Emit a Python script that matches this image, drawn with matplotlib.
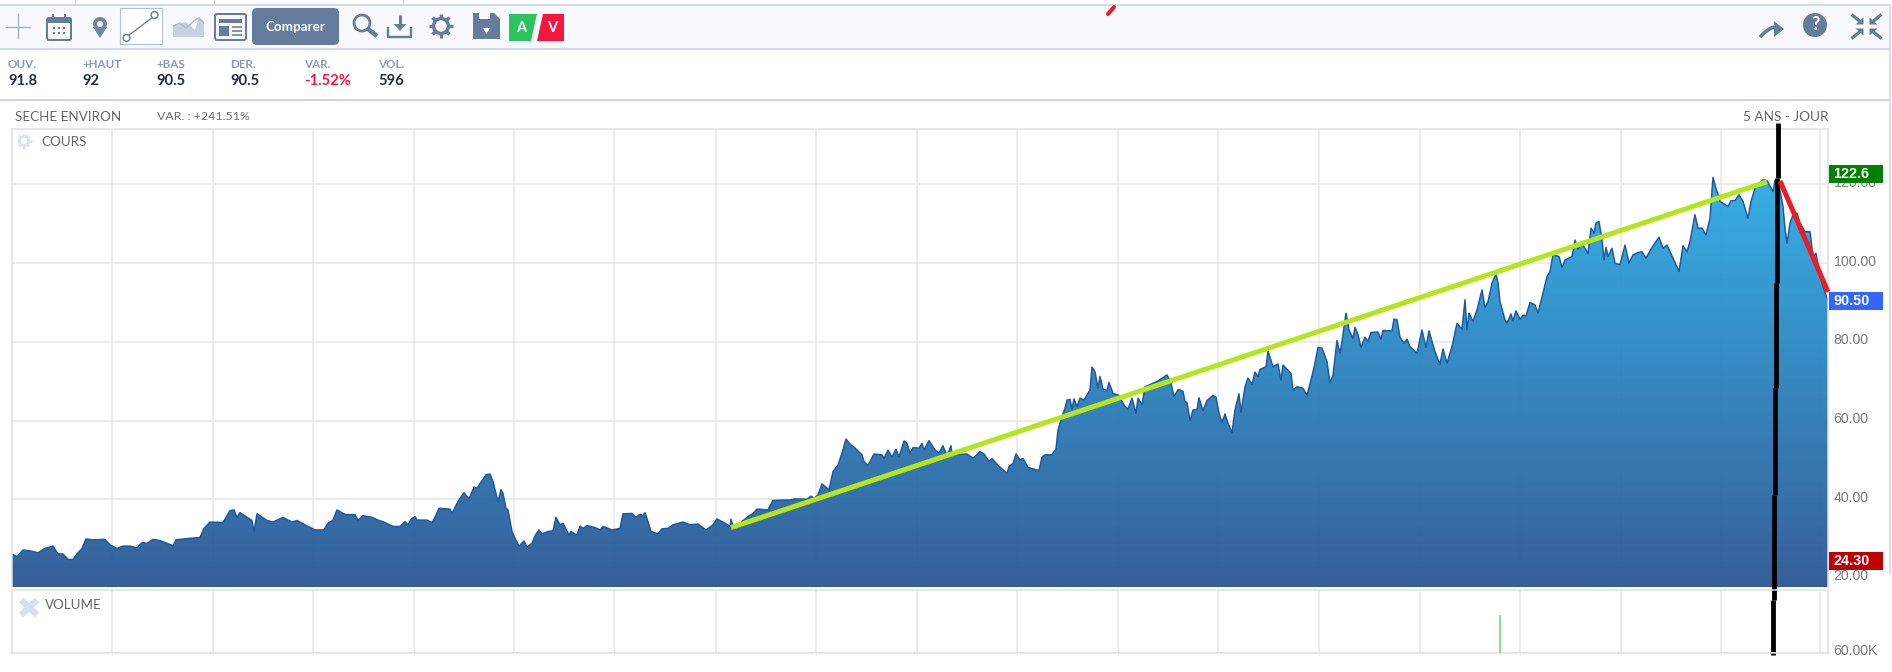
"""SECHE ENVIRON, 5 ans - jour: capture of the quote page with hand-drawn trend lines."""
import matplotlib
matplotlib.use("Agg")
import matplotlib.pyplot as plt
import numpy as np
from matplotlib.colors import LinearSegmentedColormap
from matplotlib.patches import Circle, FancyBboxPatch, Polygon, Rectangle
from matplotlib.transforms import ScaledTranslation

W, H = 1892, 672
plt.rcParams["font.family"] = ["Lato", "DejaVu Sans"]

# price curve (session index / close)
sessions = [
    0, 5, 11, 18, 26, 33, 41, 46, 51, 56, 61, 65, 70, 74, 80, 93, 98, 105, 111, 118,
    125, 130, 135, 141, 148, 161, 164, 175, 188, 192, 198, 211, 218, 222, 225, 228, 240, 242, 245, 255,
    261, 271, 280, 285, 293, 303, 312, 316, 321, 325, 333, 343, 346, 351, 360, 366, 371, 381,
    388, 393, 396, 399, 403, 405, 415, 420, 423, 427, 438, 440, 446, 452, 457, 462, 465, 474, 478, 481,
    486, 489, 491, 494, 496, 500, 503, 507, 512, 515, 520, 523, 527, 530, 536, 541, 544, 548, 551, 557,
    559, 565, 568, 571, 575, 583, 588, 591, 600, 608, 611, 620, 624, 628, 631, 633, 636, 639, 646, 650,
    656, 661, 671, 678, 686, 694, 701, 705, 713, 718, 719, 721, 728, 736, 741, 745, 756, 761, 770,
    778, 783, 795, 799, 802, 806, 810, 817, 821, 826, 830, 834, 838, 843, 850, 852, 856, 862, 870, 872,
    876, 880, 884, 887, 892, 895, 898, 901, 907, 910, 912, 917, 923, 927, 931, 935, 939, 940, 955, 961,
    968, 972, 977, 980, 986, 995, 997, 1001, 1004, 1008, 1011, 1016, 1027, 1030, 1033, 1040, 1044, 1046,
    1050, 1053, 1055, 1058, 1060, 1062, 1065, 1068, 1072, 1078, 1080, 1083, 1086, 1088, 1091, 1095, 1097,
    1101, 1106, 1113, 1116, 1120, 1124, 1126, 1130, 1133, 1145, 1155, 1159, 1162, 1166,
    1168, 1171, 1173, 1175, 1178, 1181, 1185, 1187, 1191, 1195, 1201, 1204, 1207, 1210, 1213, 1216, 1220,
    1223, 1227, 1229, 1233, 1236, 1240, 1243, 1246, 1248, 1254, 1256, 1261, 1266, 1269, 1271, 1279, 1281,
    1285, 1291, 1295, 1299, 1303, 1306, 1310, 1315, 1318, 1321, 1325, 1328, 1330, 1334, 1337, 1341, 1343,
    1346, 1349, 1353, 1356, 1359, 1366, 1369, 1371, 1380, 1382, 1385, 1388, 1392, 1395, 1398, 1405, 1410,
    1414, 1417, 1423, 1428, 1431, 1435, 1440, 1445, 1450, 1453, 1455, 1457, 1461, 1465, 1470, 1473, 1476,
    1480, 1484, 1486,
    1488, 1493, 1495, 1499, 1501, 1504, 1508, 1511, 1514, 1518, 1523, 1526, 1531, 1535, 1538, 1541, 1547,
    1550, 1553, 1560, 1563, 1566, 1570, 1576, 1579, 1582, 1584, 1587, 1590, 1592, 1594, 1596, 1600, 1603,
    1608, 1613, 1617, 1621, 1626, 1630, 1634, 1640, 1647, 1651, 1655, 1661, 1667, 1671, 1675, 1678, 1683,
    1686, 1690, 1694, 1698, 1701, 1704, 1708, 1716, 1719, 1723, 1727, 1731, 1736, 1739, 1743, 1751, 1755,
    1761, 1763, 1766, 1771, 1773, 1775, 1778, 1781, 1785, 1788, 1793, 1798, 1801, 1804, 1807, 1811, 1816,
]
prices = [
    26.1, 25.4, 27.1, 26.9, 26.4, 27.5, 28.1, 26.1, 26.1, 24.7, 24.7, 26.1, 27.5, 29.9, 29.7, 29.8, 28.4, 27.5, 28.1, 28.1,
    27.6, 29.0, 28.8, 29.8, 29.5, 28.2, 29.7, 30.0, 30.3, 32.6, 34.2, 34.1, 37.1, 37.3, 35.4, 36.6, 34.6, 31.8, 36.3, 34.6,
    34.2, 35.4, 34.2, 34.6, 33.5, 32.2, 32.2, 33.9, 34.7, 37.3, 36.1, 36.1, 34.6, 35.8, 35.4, 34.7, 34.3, 33.1,
    33.1, 34.3, 33.5, 34.9, 35.6, 34.7, 34.7, 34.1, 35.4, 37.7, 37.5, 36.4, 39.4, 41.7, 40.0, 43.1, 42.8, 46.2, 46.4, 44.5,
    39.4, 42.4, 41.5, 37.7, 37.3, 31.8, 30.1, 28.1, 29.4, 27.8, 28.8, 30.7, 32.2, 31.2, 31.8, 32.0, 35.4, 33.5, 33.9, 30.9,
    31.8, 30.9, 33.2, 32.6, 33.3, 32.8, 32.2, 33.1, 32.2, 32.6, 36.3, 36.4, 35.4, 36.2, 35.8, 36.6, 34.3, 31.8, 31.2, 32.5,
    32.6, 33.5, 34.2, 33.5, 33.7, 32.2, 33.5, 35.0, 33.9, 33.1, 34.9, 33.2, 33.9, 35.6, 36.4, 37.5, 37.3, 39.7, 39.8,
    39.8, 40.1, 40.0, 40.8, 40.2, 41.1, 43.9, 42.4, 47.0, 48.7, 51.7, 55.3, 54.0, 53.0, 51.3, 49.6, 48.6, 51.5, 51.3, 50.4,
    52.5, 50.7, 52.7, 50.8, 54.8, 54.2, 51.7, 53.1, 53.0, 54.2, 52.5, 54.9, 52.5, 51.7, 53.6, 51.0, 53.6, 51.3, 51.5, 50.4,
    52.1, 51.5, 49.6, 50.4, 48.6, 46.6, 48.3, 49.1, 51.5, 50.0, 50.4, 48.1, 47.3, 50.7, 51.3, 51.3, 52.8, 57.6,
    61.0, 63.1, 65.2, 65.4, 62.9, 65.5, 63.5, 65.7, 65.2, 67.8, 73.6, 72.4, 68.2, 71.2, 68.0, 67.6, 69.7,
    66.9, 66.5, 63.6, 62.9, 65.7, 61.9, 65.7, 64.0, 68.6, 69.9, 71.6, 69.5, 66.1, 67.8,
    67.8, 67.4, 64.8, 64.6, 60.0, 62.7, 62.7, 65.8, 62.5, 65.1, 66.4, 65.9, 61.9, 59.5, 61.7, 59.3, 57.0,
    62.7, 66.8, 62.1, 68.6, 70.8, 69.2, 72.3, 71.2, 73.0, 73.7, 77.7, 73.7, 74.4, 70.3, 74.1, 72.0, 67.8,
    68.6, 68.2, 66.4, 70.3, 74.6, 78.6, 78.4, 75.0, 69.5, 71.6, 80.3, 77.1, 80.1, 87.3, 83.0, 80.9, 83.7,
    81.8, 78.6, 81.2, 80.1, 82.4, 82.5, 80.7, 82.9, 82.8, 85.8, 85.6, 81.2, 79.7, 80.7, 78.8, 77.1, 83.0,
    78.6, 82.8, 77.5, 74.3, 78.2, 74.6, 78.8, 84.7, 83.2, 90.7, 83.0, 87.3, 85.2, 88.1, 93.2, 88.8, 90.2,
    94.9, 97.3, 94.9,
    90.2, 85.6, 84.7, 87.1, 85.3, 87.9, 85.7, 86.8, 86.6, 90.0, 89.4, 87.3, 92.4, 96.6, 97.9, 102.1, 101.7,
    98.9, 100.8, 101.7, 105.9, 103.5, 105.1, 102.4, 108.9, 107.6, 110.2, 110.6, 105.9, 100.8, 104.0, 101.7, 103.8, 100.0,
    99.6, 104.6, 100.0, 102.1, 102.7, 102.9, 101.3, 104.0, 106.6, 103.8, 104.6, 101.3, 97.9, 104.4, 102.9, 105.5, 112.3,
    108.9, 108.9, 107.2, 111.4, 121.8, 119.0, 115.7, 114.4, 115.9, 115.9, 117.4, 115.7, 111.4, 115.7, 119.0, 121.2, 121.0,
    118.2, 121.0, 121.2, 114.4, 108.9, 105.0, 110.2, 112.3, 112.7, 110.2, 108.0, 108.0, 101.7, 102.5, 98.3, 94.0, 90.5,
]
price_ticks = [20, 40, 60, 80, 100, 120]
grid_sessions = [100, 201, 301, 402, 502, 602, 704, 804, 905, 1005, 1106, 1206, 1307, 1408, 1508, 1609, 1709, 1808]
price_high, price_last, price_low = 122.6, 90.50, 24.30

volume_sessions = [1488]
volumes = [120000]
volume_ticks = [60000]

# lines drawn by hand over the screenshot
green_sessions, green_prices = [719, 1755], [32.8, 120.7]
red_sessions, red_prices = [1768, 1816], [120.9, 92.7]
black_sessions = [1766, 1765, 1764, 1763, 1762, 1761]
black_top = [135.7, 121.7, 95.0, 68.3, 41.1, 14.4]
black_bottom = [121.7, 95.0, 68.3, 41.1, 14.4, 0.4]

stat_names = ["OUV.", "+HAUT", "+BAS", "DER.", "VAR.", "VOL."]
stat_values = ["91.8", "92", "90.5", "90.5", "-1.52%", "596"]

SLATE = "#667c9c"
GRID = "#e6e6e6"
TICK = "#7a7a7a"
PX = 0.72  # points per pixel at dpi 100

fig = plt.figure(figsize=(W / 100, H / 100), dpi=100, facecolor="white")

# ---- page chrome, in pixel coordinates
ui = fig.add_axes([0, 0, 1, 1], zorder=0)
ui.set_xlim(0, W); ui.set_ylim(H, 0); ui.axis("off")


def seg(xs, ys, color=SLATE, lw=2.0, **kw):
    ui.plot(xs, ys, color=color, lw=lw * PX, solid_capstyle=kw.pop("cap", "butt"), **kw)


def box(x0, y0, x1, y1, color=SLATE, **kw):
    ui.add_patch(Rectangle((x0, y0), x1 - x0, y1 - y0, facecolor=color, edgecolor="none", **kw))


def rbox(x0, y0, x1, y1, r, fc, ec="none", lw=0):
    ui.add_patch(FancyBboxPatch((x0 + r, y0 + r), x1 - x0 - 2 * r, y1 - y0 - 2 * r, boxstyle=f"round,pad={r}",
                                facecolor=fc, edgecolor=ec, lw=lw * PX))


def gear(cx, cy, r, color, lw):
    ui.add_patch(Circle((cx, cy), r * 0.62, fill=False, edgecolor=color, lw=lw * PX))
    for a in np.arange(8) * np.pi / 4:
        seg([cx + r * 0.7 * np.cos(a), cx + r * np.cos(a)], [cy + r * 0.7 * np.sin(a), cy + r * np.sin(a)], color, lw)


box(0, 5, W - 2, 48, "#f8f9fe")
seg([0, W - 2], [5, 5], "#c2d0e0", 1.5)
seg([0, W - 2], [48.5, 48.5], "#c2d0e0", 1.5)
seg([0, W - 2], [99.5, 99.5], "#c8d4e3", 2)
seg([W - 2, W - 2], [5, 575], "#c8d4e3", 1.5)
for x in (75, 214, 403):
    seg([x, x], [0, 3], "#d0d0d0", 1)

# left tool icons
seg([5, 31], [27, 27], "#9fb0c6", 1.3)
seg([18, 18], [13, 39], "#9fb0c6", 1.3)

rbox(47, 18, 71, 40, 2, "none", SLATE, 2)
box(47, 18, 71, 23)
seg([53, 53], [14, 19], lw=2); seg([65, 65], [14, 19], lw=2)
for cx in (54, 59, 64):
    for cy in (28, 33):
        box(cx - 1.2, cy - 1.2, cx + 1.2, cy + 1.2)

ui.add_patch(Polygon([(93, 27), (107, 27), (100, 38)], facecolor="#72859f", edgecolor="none"))
ui.add_patch(Circle((100, 24), 7, facecolor="#72859f", edgecolor="none"))
ui.add_patch(Circle((100, 24), 3, facecolor="#f8f9fe", edgecolor="none"))

ui.add_patch(Rectangle((120, 8), 42, 36, facecolor="white", edgecolor="#b5c0cc", lw=1.2 * PX))
seg([128, 153], [36, 17], "#6a7f9d", 1.3)
ui.add_patch(Circle((126.5, 38), 3.4, facecolor="white", edgecolor="#6a7f9d", lw=1.5 * PX, zorder=3))
ui.add_patch(Circle((154.5, 15), 3.4, facecolor="white", edgecolor="#6a7f9d", lw=1.5 * PX, zorder=3))

ui.add_patch(Polygon([(173, 37), (173, 26), (186, 22), (195, 30), (199, 17), (204, 23), (204, 37)],
                     facecolor="#c5d0e0", edgecolor="none"))
seg([173, 180, 186, 195, 199, 204], [26, 23, 28, 20, 18, 23], "#aebdd0", 1.5)

rbox(215, 14, 246, 40, 2, "none", SLATE, 2)
box(219, 19, 242, 23)
box(219, 26, 229, 36)
for yy in (27, 31, 35):
    seg([232, 242], [yy, yy], lw=1.6)

rbox(252, 8, 339, 45, 5, SLATE)
ui.text(295.5, 27, "Comparer", color="white", fontweight="bold", fontsize=9.6, ha="center", va="center")

# search, download, settings, save
ui.add_patch(Circle((362, 23), 8, fill=False, edgecolor=SLATE, lw=2.8 * PX))
seg([368, 377], [29, 36], lw=4.5)
seg([388, 388, 411, 411], [27, 37, 37, 27], lw=2.4)
seg([400, 400], [15, 25], lw=3)
ui.add_patch(Polygon([(394, 24), (406, 24), (400, 31)], facecolor=SLATE, edgecolor="none"))
gear(441, 26, 12, SLATE, 3.4)
ui.add_patch(Polygon([(473, 13), (494, 13), (500, 19), (500, 39), (473, 39)], facecolor=SLATE, edgecolor="none"))
box(479, 13, 490, 19, "#f8f9fe")
ui.add_patch(Polygon([(483, 28), (490, 28), (486.5, 34)], facecolor="#f8f9fe", edgecolor="none"))

# buy / sell badges
ui.add_patch(Polygon([(509, 14), (537, 14), (531, 41), (509, 41)], facecolor="#2dc45e", edgecolor="none"))
ui.add_patch(Polygon([(543, 14), (564, 14), (564, 41), (537, 41)], facecolor="#f5153f", edgecolor="none"))
ui.text(521, 27.5, "A", color="white", fontweight="bold", fontsize=10.5, ha="center", va="center")
ui.text(552, 27.5, "V", color="white", fontweight="bold", fontsize=10.5, ha="center", va="center")

# right icons
t = np.linspace(0, 1, 20)
seg(1760 + 16 * t, 37 - 10 * np.sin(t * np.pi / 2), lw=3.6)
ui.add_patch(Polygon([(1774, 21), (1784, 29), (1774, 37)], facecolor=SLATE, edgecolor="none"))
ui.add_patch(Circle((1815, 25), 12, facecolor=SLATE, edgecolor="none"))
ui.text(1815, 25, "?", color="white", fontweight="bold", fontsize=13, ha="center", va="center")
for sx, sy in ((-1, -1), (1, -1), (-1, 1), (1, 1)):
    cx, cy = 1866.5, 26.5
    seg([cx + sx * 15, cx + sx * 5], [cy + sy * 12, cy + sy * 4], lw=3.2)
    ui.add_patch(Polygon([(cx + sx * 3, cy + sy * 2), (cx + sx * 11, cy + sy * 2), (cx + sx * 3, cy + sy * 9)],
                         facecolor=SLATE, edgecolor="none"))

# stray red mark at the top of the capture
seg([1108, 1114], [14, 7], "#ed1c24", 4, cap="round")

# quote strip
for i, (name, value) in enumerate(zip(stat_names, stat_values)):
    x = 8 + i * 74
    ui.text(x, 65, name, color="#8a9db8", fontweight="bold", fontsize=8.4, va="center")
    ui.text(x, 81, value, color="#f5153f" if value.startswith("-") else "#1e2c40", fontweight="bold",
            fontsize=10.6, va="center")

ui.text(15, 117, "SECHE ENVIRON", color="#666666", fontsize=9.7, va="center")
ui.text(157, 117, "VAR. : +241.51%", color="#707070", fontsize=8.9, va="center")
ui.text(1829, 117, "5 ANS - JOUR", color="#666666", fontsize=9.8, va="center", ha="right")
gear(24, 141, 7.5, "#dfe4ea", 3)
ui.text(41, 141.5, "COURS", color="#666666", fontsize=9.7, va="center")
seg([21, 37], [600, 615], "#dbe0e8", 6.5); seg([37, 21], [600, 615], "#dbe0e8", 6.5)
ui.text(45, 605, "VOLUME", color="#666666", fontsize=9.6, va="center")

# ---- price panel
ax = fig.add_axes([12 / W, 1 - 587 / H, 1816 / W, 458 / H], zorder=1)
ax.patch.set_visible(False)
y_bottom, y_top = 17.7, 134.1
ax.set_xlim(0, 1816); ax.set_ylim(y_bottom, y_top)
ax.set_axisbelow(True)
ax.grid(True, color=GRID, lw=1.5 * PX)
ax.set_xticks(grid_sessions)
ax.set_yticks(price_ticks)
ax.set_yticklabels([f"{v:.2f}" for v in price_ticks], family="Liberation Sans", fontsize=10.2, color=TICK)
ax.yaxis.tick_right()
ax.tick_params(length=0, labelbottom=False, pad=4)
for lab in ax.get_yticklabels():
    lab.set_transform(lab.get_transform() + ScaledTranslation(0, 2.2 / 72, fig.dpi_scale_trans))
for side in ("left", "top", "right"):
    ax.spines[side].set_color("#e0e0e0"); ax.spines[side].set_linewidth(1.5 * PX)
ax.spines["bottom"].set_visible(False)

area = ax.fill_between(sessions, prices, y_bottom, facecolor="none", edgecolor="none")
cmap = LinearSegmentedColormap.from_list("cours", ["#305a96", "#2fb6ee"])
im = ax.imshow(np.linspace(0, 1, 256)[:, None], origin="lower", extent=[0, 1816, y_bottom, y_top], aspect="auto",
               cmap=cmap, alpha=0.97, zorder=1.5)
im.set_clip_path(area.get_paths()[0], transform=ax.transData)
ax.plot(sessions, prices, color="#1d5a9e", lw=1.5 * PX, zorder=2)
ax.set_xlim(0, 1816); ax.set_ylim(y_bottom, y_top)

# high / last / low badges sit on the price scale
for value, label, color in ((price_high, f"{price_high:.1f}", "#008000"),
                            (price_last, f"{price_last:.2f}", "#3366ff"),
                            (price_low, f"{price_low:.2f}", "#c00000")):
    ax.add_patch(Rectangle((1.0006, value - 2.3), 54 / 1816, 4.6, transform=ax.get_yaxis_transform(),
                           facecolor=color, edgecolor="none", clip_on=False, zorder=5))
    ax.text(1 + 5 / 1816, value, label, transform=ax.get_yaxis_transform(), color="white", family="Liberation Sans",
            fontweight="bold", fontsize=10.4, va="center", clip_on=False, zorder=6)

ax.plot(green_sessions, green_prices, color="#b5e61d", lw=5 * PX, solid_capstyle="butt", zorder=4)
ax.vlines(black_sessions, black_bottom, black_top, color="black", lw=4.8 * PX, clip_on=False, zorder=4)
ax.plot(red_sessions, red_prices, color="#ed1c24", lw=5 * PX, solid_capstyle="butt", clip_on=False, zorder=4.5)

# ---- volume panel
vol = fig.add_axes([12 / W, 1 - 653 / H, 1816 / W, 63 / H], zorder=1)
vol.patch.set_visible(False)
vol.set_xlim(0, 1816); vol.set_ylim(60000, 160000)
vol.set_axisbelow(True)
vol.grid(True, color=GRID, lw=1.5 * PX)
vol.set_xticks(grid_sessions)
vol.set_yticks(volume_ticks)
vol.set_yticklabels([f"{v / 1000:.2f}K" for v in volume_ticks], family="Liberation Sans", fontsize=10.2, color=TICK)
vol.yaxis.tick_right()
vol.tick_params(axis="y", length=0, pad=4)
vol.tick_params(axis="x", length=1.5, color=GRID, labelbottom=False)
for lab in vol.get_yticklabels():
    lab.set_transform(lab.get_transform() + ScaledTranslation(0, 2.2 / 72, fig.dpi_scale_trans))
for side in vol.spines.values():
    side.set_color("#e0e0e0"); side.set_linewidth(1.5 * PX)
vol.bar(volume_sessions, np.array(volumes) - 60000, bottom=60000, width=2, color="#8fdc8f", zorder=3)

fig.savefig("out.png", dpi=100)
